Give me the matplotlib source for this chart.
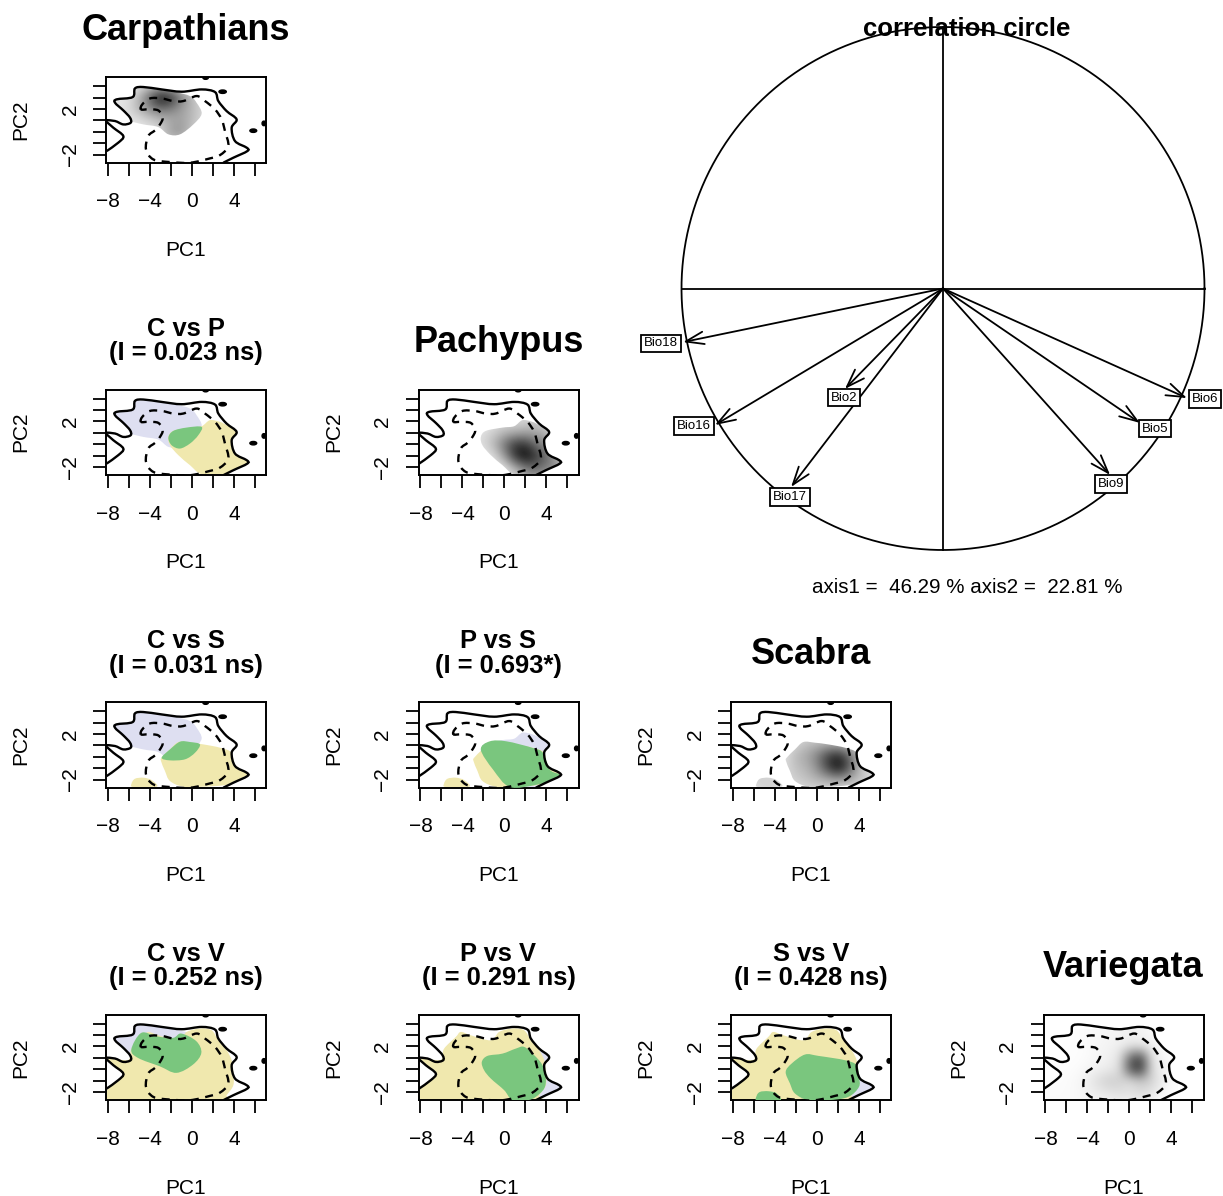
import numpy as np
import matplotlib
matplotlib.use('Agg')
import matplotlib.pyplot as plt
from matplotlib.patches import Ellipse, PathPatch
from matplotlib.path import Path

plt.rcParams['font.family'] = ['Liberation Sans', 'DejaVu Sans']

# outlines, in PC1 / PC2 units
outer_x = [-8.22, -7.33, -6.54, -5.84, -5.90, -6.54, -7.33, -7.17, -5.65, -5.43, -4.63, -2.89, -0.98, 0.92, 2.19, 2.51, 3.30, 4.25, 3.78, 4.10, 5.21, 5.27, 3.94, 2.98]
outer_y = [1.02, 0.94, 0.64, 0.79, 1.23, 1.87, 2.54, 2.84, 3.04, 3.80, 3.92, 3.71, 3.51, 3.71, 3.48, 2.69, 1.81, 1.08, 0.35, -0.82, -1.40, -1.70, -2.28, -2.72]
second_x = [-8.22, -7.49, -6.54, -7.02, -8.13]
second_y = [0.94, 0.35, -0.38, -0.96, -1.70]
dashed_x = [-4.86, -4.73, -4.00, -2.89, -1.78, -0.83, 0.44, 1.24, 2.19, 2.83, 3.14, 3.46, 2.67, 1.71, -0.19, -2.10, -3.68, -4.38, -4.16, -3.52, -3.05, -2.79, -3.21, -4.16, -4.86]
dashed_y = [1.96, 2.40, 2.92, 2.92, 2.69, 2.69, 3.13, 2.69, 1.96, 1.08, 0.06, -1.26, -2.05, -2.34, -2.72, -2.66, -2.43, -1.55, -0.38, 0.12, 0.64, 1.23, 1.87, 1.96, 1.96]
blob_x = [1.30, 2.92, 5.84, 6.85]
blob_y = [4.72, 3.51, 0.09, 0.73]
blob_w = [0.5, 0.7, 0.65, 0.35]
blob_h = [0.25, 0.3, 0.3, 0.4]

# species niches
region_c = [(-7.33, 2.54), (-7.17, 2.84), (-5.65, 3.04), (-5.43, 3.80), (-4.16, 3.80), (-1.78, 3.51), (-0.19, 3.13), (0.44, 2.54), (0.92, 1.58), (0.13, 0.64), (-1.14, -0.23), (-2.25, -0.23), (-3.21, 0.41), (-4.63, 0.64), (-5.84, 0.94), (-6.06, 1.37), (-6.54, 1.87)]
region_p = [(0.92, 1.58), (1.71, 2.11), (2.67, 1.96), (3.30, 1.67), (4.25, 1.08), (3.78, 0.35), (4.10, -0.82), (5.21, -1.40), (5.27, -1.70), (3.94, -2.28), (2.98, -2.63), (0.92, -2.63), (-0.19, -1.84), (-1.30, -0.96), (-2.10, -0.09), (-2.25, 0.64), (-1.78, 1.17), (-0.19, 1.46)]
region_s = [(-2.89, -0.09), (-2.10, 0.64), (-1.30, 1.29), (-0.19, 1.23), (1.08, 1.08), (2.67, 0.79), (3.78, 0.35), (4.10, -0.82), (5.21, -1.40), (5.27, -1.70), (3.94, -2.28), (2.98, -2.51), (1.08, -2.63), (-0.83, -2.63), (-2.10, -2.13), (-2.57, -1.26), (-2.95, -0.38)]
region_s2 = [(-5.75, -2.34), (-5.43, -1.93), (-4.63, -1.84), (-3.84, -2.05), (-3.37, -2.63), (-5.59, -2.66)]
region_v = [(-8.4, -2.9), (-8.4, -2.05), (-7.97, -1.70), (-6.54, -0.38), (-7.49, 0.35), (-7.97, 0.94), (-6.22, 0.79), (-5.90, 1.08), (-5.75, 1.81), (-4.63, 2.84), (-4.16, 3.27), (-3.21, 2.98), (-1.30, 2.54), (-0.51, 3.27), (0.76, 3.57), (1.87, 3.42), (2.51, 2.54), (3.30, 1.67), (3.78, 0.79), (3.94, -0.23), (3.94, -1.40), (3.30, -2.28), (2.83, -2.9)]

# overlaps
green_cp = [(-2.25, 0.58), (-1.78, 1.17), (-0.51, 1.46), (0.92, 1.52), (0.60, 0.79), (-0.19, 0.06), (-1.14, -0.38), (-1.94, -0.09)]
green_cs = [(-2.89, -0.09), (-2.10, 0.64), (-1.14, 1.32), (-0.19, 1.29), (0.76, 1.08), (0.29, 0.35), (-0.67, -0.23), (-2.10, -0.32)]
green_ps = [(-2.25, 0.61), (-1.40, 1.35), (0.19, 1.35), (2.73, 0.76), (3.68, 0.32), (4.32, -1.14), (5.27, -1.58), (4.63, -2.02), (3.05, -2.46), (0.51, -2.66), (-1.08, -1.14)]
green_cv = [(-5.78, 1.73), (-4.83, 3.19), (-3.40, 2.89), (-1.81, 2.75), (-1.02, 3.13), (0.41, 2.46), (0.89, 1.43), (0.10, 0.41), (-1.49, -0.32), (-3.08, 0.26), (-5.14, 0.99)]
green_pv = [(-2.16, 0.64), (-1.62, 1.17), (-0.19, 1.37), (1.08, 1.81), (1.87, 1.96), (2.83, 1.23), (3.62, 0.35), (3.94, -0.82), (3.78, -1.70), (2.98, -2.43), (2.19, -2.72), (0.76, -2.72), (-0.03, -1.84), (-1.30, -0.82), (-1.94, -0.09)]
green_sv = [(-2.98, -0.23), (-2.41, 0.50), (-1.14, 1.29), (0.13, 1.17), (2.67, 0.79), (3.78, 0.35), (4.00, -0.67), (4.00, -1.55), (2.98, -2.43), (1.08, -2.72), (-0.83, -2.72), (-2.10, -2.13), (-2.57, -1.26)]
green_sv2 = [(-5.75, -2.34), (-5.43, -1.99), (-4.63, -1.93), (-3.84, -2.13), (-3.52, -2.8), (-5.65, -2.8)]

# density grids, darkness 0-1, top row is the highest PC2
dens_c_x = [-7, 2]
dens_c_y = [-1, 4]
dens_c = [[.10, .10, .12, .18, .22, .20, .12, .05, 0, 0],
          [.10, .12, .30, .62, .95, .85, .50, .30, .12, .10],
          [.10, .15, .30, .45, .55, .50, .38, .28, .18, .10],
          [.10, .10, .12, .18, .25, .32, .36, .28, .15, .10],
          [0, .10, .10, .10, .18, .38, .42, .22, .12, .05],
          [0, 0, 0, .10, .10, .20, .20, .12, .05, 0]]
dens_p_x = [-3, 6]
dens_p_y = [-3, 3]
dens_p = [[0, 0, 0, .10, .10, .10, .10, .10, 0, 0],
          [0, 0, .12, .15, .15, .18, .22, .15, .10, 0],
          [.10, .15, .20, .28, .32, .35, .35, .30, .12, 0],
          [.10, .15, .30, .55, .78, .78, .55, .42, .18, .10],
          [0, .10, .15, .42, .82, .98, .78, .58, .35, .12],
          [0, 0, .10, .12, .35, .55, .62, .52, .45, .18],
          [0, 0, 0, .10, .12, .30, .35, .30, .20, .10]]
dens_s_x = [-6, 6]
dens_s_y = [-3, 2]
dens_s = [[0, 0, 0, 0, .10, .15, .15, .15, .15, .15, .10, 0, 0],
          [0, 0, 0, .10, .18, .25, .28, .30, .30, .25, .12, .08, 0],
          [0, 0, 0, .15, .28, .35, .50, .75, .85, .60, .25, .10, 0],
          [.10, .10, .10, .15, .25, .30, .45, .75, .95, .65, .28, .12, 0],
          [.18, .20, .20, .15, .20, .25, .30, .35, .40, .35, .25, .20, .10],
          [.12, .15, .15, .10, .12, .15, .15, .15, .12, .12, .10, .10, 0]]
dens_v_x = [-8, 4]
dens_v_y = [-3, 3]
dens_v = [[0, 0, 0, .01, .02, .03, .04, .05, .06, .05, .03, .01, 0],
          [0, 0, .01, .01, .02, .04, .05, .07, .10, .10, .06, .02, 0],
          [0, 0, .01, .01, .02, .04, .06, .12, .60, .72, .12, .04, .01],
          [.01, .01, .01, .02, .04, .06, .08, .14, .68, .80, .14, .06, .02],
          [.01, .01, .02, .03, .07, .14, .20, .18, .14, .22, .18, .07, .02],
          [.02, .02, .02, .03, .06, .09, .11, .13, .12, .15, .11, .05, .01],
          [.02, .02, .02, .03, .03, .04, .05, .06, .05, .05, .03, .01, 0]]

# correlation circle
bio_names = ['Bio18', 'Bio16', 'Bio2', 'Bio17', 'Bio9', 'Bio5', 'Bio6']
bio_x = [-0.994, -0.872, -0.375, -0.581, 0.639, 0.753, 0.933]
bio_y = [-0.205, -0.522, -0.384, -0.759, -0.713, -0.514, -0.419]
bio_label_x = [-1.078, -0.952, -0.379, -0.585, 0.642, 0.811, 1.002]
bio_label_y = [-0.209, -0.526, -0.417, -0.797, -0.748, -0.536, -0.423]

BLUE = '#DEDFF1'
YELLOW = '#F0E8AE'
GREEN = '#7AC67E'

W, H = 1223, 1196
col_left = [106, 418.5, 731, 1043.5]
row_top = [77, 389.5, 702, 1014.5]
box_w, box_h = 160, 85.5


def smooth(points, closed=True):
    # bezier segments through every hand read point (catmull-rom tangents)
    p = np.array(points, dtype=float)
    n = len(p)
    if closed:
        prev_p, next_p = np.roll(p, 1, axis=0), np.roll(p, -1, axis=0)
        count = n
    else:
        prev_p = np.vstack([p[0], p[:-1]])
        next_p = np.vstack([p[1:], p[-1]])
        count = n - 1
    tang = (next_p - prev_p) / 6
    verts = [p[0]]
    codes = [Path.MOVETO]
    for i in range(count):
        j = (i + 1) % n
        verts += [p[i] + tang[i], p[j] - tang[j], p[j]]
        codes += [Path.CURVE4] * 3
    return Path(verts, codes)


study = list(zip(outer_x, outer_y)) + [(-8.4, -2.9)] + list(zip(second_x, second_y))[::-1]
study_path = Path(study + [study[0]])

fig = plt.figure(figsize=(W / 100, H / 100), dpi=100)


def make_panel(row, col, big=None, small=None):
    ax = fig.add_axes([col_left[col] / W, 1 - (row_top[row] + box_h) / H, box_w / W, box_h / H])
    ax.set_xlim(-8.19, 7.05)
    ax.set_ylim(-2.70, 4.80)
    ax.set_xticks([-8, -6, -4, -2, 0, 2, 4, 6])
    ax.set_xticklabels(['\u22128', '', '\u22124', '', '0', '', '4', ''], fontsize=15)
    ax.set_yticks([-2, -1, 0, 1, 2, 3, 4])
    ax.set_yticklabels(['\u22122', '', '', '', '2', '', ''], fontsize=15, rotation=90, va='center')
    ax.tick_params(length=9.5, width=1.3)
    ax.tick_params(axis='x', pad=12)
    ax.tick_params(axis='y', pad=9.5)
    for s in ax.spines.values():
        s.set_linewidth(1.4)
    ax.text(0.5, -88 / box_h, 'PC1', transform=ax.transAxes, ha='center', va='center', fontsize=15)
    ax.text(-85 / box_w, 0.5, 'PC2', transform=ax.transAxes, ha='center', va='center', rotation=90, fontsize=15)
    if big:
        ax.text(0.5, 1 + 47 / box_h, big, transform=ax.transAxes, ha='center', va='center', fontsize=26, fontweight='bold')
    if small:
        ax.text(0.5, 1 + 61 / box_h, small[0], transform=ax.transAxes, ha='center', va='center', fontsize=18.4, fontweight='bold')
        ax.text(0.5, 1 + 36.5 / box_h, small[1], transform=ax.transAxes, ha='center', va='center', fontsize=18.4, fontweight='bold')
    return ax


def add_lines(ax):
    ax.add_patch(PathPatch(smooth(list(zip(outer_x, outer_y)), closed=False), fc='none', ec='black', lw=1.7, zorder=5))
    ax.add_patch(PathPatch(smooth(list(zip(second_x, second_y)), closed=False), fc='none', ec='black', lw=1.7, zorder=5))
    ax.add_patch(PathPatch(smooth(list(zip(dashed_x[:-1], dashed_y[:-1]))), fc='none', ec='black', lw=1.7, ls=(0, (3.4, 2.8)), zorder=5))
    for bx, by, bw, bh in zip(blob_x, blob_y, blob_w, blob_h):
        ax.add_patch(Ellipse((bx, by), bw, bh, fc='black', ec='black', zorder=5))


def density_panel(row, col, name, grid, gx, gy, clip_path):
    ax = make_panel(row, col, big=name)
    grid = np.array(grid)
    step_x = (gx[1] - gx[0]) / (grid.shape[1] - 1) / 2
    step_y = (gy[1] - gy[0]) / (grid.shape[0] - 1) / 2
    im = ax.imshow(grid, extent=[gx[0] - step_x, gx[1] + step_x, gy[0] - step_y, gy[1] + step_y],
                   cmap='gray_r', vmin=0, vmax=1, interpolation='bicubic', aspect='auto', zorder=1)
    im.set_clip_path(clip_path, transform=ax.transData)
    ax.set_xlim(-8.19, 7.05)
    ax.set_ylim(-2.70, 4.80)
    add_lines(ax)


def overlap_panel(row, col, lines, blues, yellows, greens):
    ax = make_panel(row, col, small=lines)
    for poly in blues:
        ax.add_patch(PathPatch(smooth(poly), fc=BLUE, ec='none', zorder=1))
    for poly in yellows:
        ax.add_patch(PathPatch(smooth(poly), fc=YELLOW, ec='none', zorder=2))
    for poly in greens:
        ax.add_patch(PathPatch(smooth(poly), fc=GREEN, ec='none', zorder=3))
    add_lines(ax)


density_panel(0, 0, 'Carpathians', dens_c, dens_c_x, dens_c_y, smooth(region_c))
density_panel(1, 1, 'Pachypus', dens_p, dens_p_x, dens_p_y, smooth(region_p))
density_panel(2, 2, 'Scabra', dens_s, dens_s_x, dens_s_y, Path.make_compound_path(smooth(region_s), smooth(region_s2)))
density_panel(3, 3, 'Variegata', dens_v, dens_v_x, dens_v_y, study_path)

overlap_panel(1, 0, ('C vs P', '(I = 0.023 ns)'), [region_c], [region_p], [green_cp])
overlap_panel(2, 0, ('C vs S', '(I = 0.031 ns)'), [region_c], [region_s, region_s2], [green_cs])
overlap_panel(2, 1, ('P vs S', '(I = 0.693*)'), [region_p], [region_s, region_s2], [green_ps])
overlap_panel(3, 0, ('C vs V', '(I = 0.252 ns)'), [region_c], [region_v], [green_cv])
overlap_panel(3, 1, ('P vs V', '(I = 0.291 ns)'), [region_p], [region_v], [green_pv])
overlap_panel(3, 2, ('S vs V', '(I = 0.428 ns)'), [region_s], [region_v], [green_sv, green_sv2])

# correlation circle, 1 unit = 261.5 px, centre at (943, 288.5)
R = 261.5
cx, cy = 943, 288.5
xl, xr, yb, yt = -1.2, 1.07, -1.2, 1.05
ax = fig.add_axes([(cx + xl * R) / W, 1 - (cy - yb * R) / H, (xr - xl) * R / W, (yt - yb) * R / H])
ax.set_xlim(xl, xr)
ax.set_ylim(yb, yt)
ax.axis('off')
theta = np.linspace(0, 2 * np.pi, 400)
ax.plot(np.cos(theta), np.sin(theta), color='black', lw=1.3)
ax.plot([-1, 1], [0, 0], color='black', lw=1.3)
ax.plot([0, 0], [-1, 1], color='black', lw=1.3)
for name, x, y, lx, ly in zip(bio_names, bio_x, bio_y, bio_label_x, bio_label_y):
    ax.annotate('', xy=(x, y), xytext=(0, 0),
                arrowprops=dict(arrowstyle='->,head_length=1.3,head_width=0.45', lw=1.3, color='black', shrinkA=0, shrinkB=0))
    ax.text(lx, ly, name, ha='center', va='center', fontsize=9.5, zorder=6, clip_on=False,
            bbox=dict(boxstyle='square,pad=0.2', fc='white', ec='black', lw=1.3))
ax.text(24 / R, 0.993, 'correlation circle', ha='center', va='center', fontsize=18.5, fontweight='bold', zorder=7)
ax.text(24 / R, -1.145, 'axis1 =  46.29 % axis2 =  22.81 %', ha='center', va='center', fontsize=14.8)

fig.savefig('out.png', dpi=100)
